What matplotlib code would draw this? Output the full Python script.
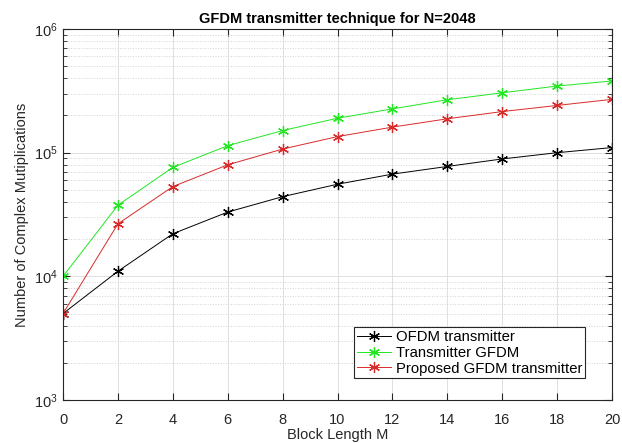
import matplotlib.pyplot as plt
from matplotlib.ticker import LogLocator, NullFormatter

plt.rcParams['font.family'] = ['Liberation Sans', 'DejaVu Sans']

# Block length M
block_len = [0, 2, 4, 6, 8, 10, 12, 14, 16, 18, 20]

# Complex multiplications
ofdm_tx = [5000, 11000, 22100, 33100, 44100, 55600, 67100, 77400, 89000, 100000, 110000]
gfdm_tx = [10000, 37600, 76000, 114000, 151000, 190000, 226000, 268000, 305000, 346000, 380000]
proposed_tx = [5000, 26600, 53200, 79800, 107000, 135000, 161000, 188000, 215000, 241000, 270000]

fig = plt.figure(figsize=(6.22, 4.43), dpi=100)
ax = fig.add_axes([0.1013, 0.097, 0.8827, 0.8375])

star = (6, 2, 0)
ax.plot(block_len, ofdm_tx, color='black', marker=star, markersize=8, linewidth=0.7,
        markeredgewidth=0.9, label='OFDM transmitter')
ax.plot(block_len, gfdm_tx, color='#22e622', marker=star, markersize=8, linewidth=0.7,
        markeredgewidth=0.9, label='Transmitter GFDM')
ax.plot(block_len, proposed_tx, color='#d92a2a', marker=star, markersize=8, linewidth=0.7,
        markeredgewidth=0.9, label='Proposed GFDM transmitter')

ax.set_yscale('log')
ax.set_xlim(0, 20)
ax.set_ylim(1e3, 1e6)
ax.set_xticks(block_len)
ax.yaxis.set_major_locator(LogLocator(base=10, numticks=10))
ax.yaxis.set_minor_locator(LogLocator(base=10, subs=range(2, 10), numticks=20))
ax.yaxis.set_minor_formatter(NullFormatter())

ax.grid(True, which='major', color='#e0e0e0', linewidth=0.7)
ax.grid(True, which='minor', axis='y', color='#d4d4d4', linestyle=':', linewidth=0.7)

ax.tick_params(which='both', direction='in', top=True, right=True, labelsize=10.5,
               colors='#262626')
ax.tick_params(which='major', length=5)
ax.tick_params(which='minor', length=3)
ax.tick_params(axis='x', pad=9)
for s in ax.spines.values():
    s.set_color('#262626')
    s.set_linewidth(0.8)

ax.set_title('GFDM transmitter technique for N=2048', fontsize=10.5, fontweight='bold', pad=4)
ax.set_xlabel('Block Length M', fontsize=10.5, labelpad=1, color='#262626')
ax.set_ylabel('Number of Complex Mutiplications', fontsize=10.5, labelpad=4, color='#262626')

leg = ax.legend(loc='lower right', fontsize=10.7, fancybox=False, framealpha=1,
                edgecolor='#262626', borderpad=0.2, labelspacing=0.12,
                handlelength=2.3, handletextpad=0.35, bbox_to_anchor=(0.965, 0.038))
leg.get_frame().set_linewidth(0.8)

fig.savefig('out.png', dpi=100)
